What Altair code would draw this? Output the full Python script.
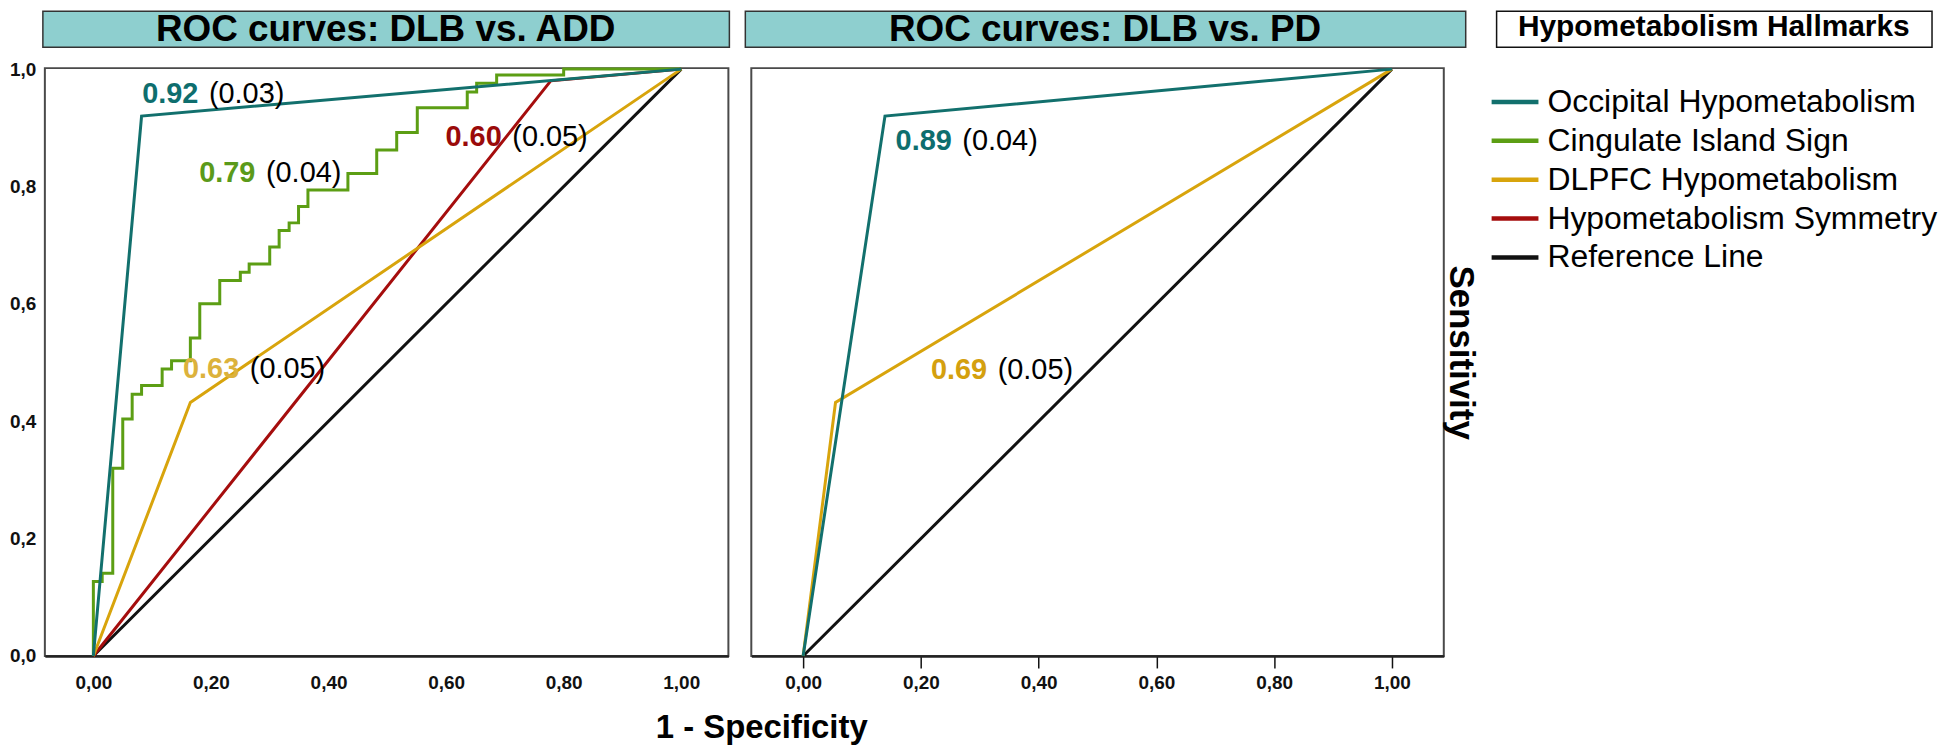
import altair as alt
import pandas as pd

FONT = "Liberation Sans"

# ---------------- data ----------------
series_names = ["Occipital Hypometabolism", "Cingulate Island Sign", "DLPFC Hypometabolism",
                "Hypometabolism Symmetry", "Reference Line"]
series_colors = ["#12706d", "#5c9e14", "#d8a40c", "#a50d0d", "#111111"]
series_widths = [3, 3, 2.6, 2.6, 2.6]

panel_ids = ["ADD", "PD"]
panel_titles = ["ROC curves: DLB vs. ADD", "ROC curves: DLB vs. PD"]
legend_title = "Hypometabolism Hallmarks"

# DLB vs ADD
add_occ_fpr = [0.0, 0.082, 1.0]
add_occ_tpr = [0.0, 0.920, 1.0]
add_cis_fpr = [0.0, 0.0, 0.015, 0.033, 0.050, 0.066, 0.082, 0.117, 0.133, 0.165, 0.181, 0.215,
               0.250, 0.265, 0.300, 0.316, 0.333, 0.349, 0.365, 0.433, 0.482, 0.516, 0.551,
               0.636, 0.652, 0.686, 0.800, 1.0]
add_cis_tpr = [0.0, 0.127, 0.141, 0.320, 0.404, 0.446, 0.461, 0.489, 0.503, 0.542, 0.600, 0.640,
               0.654, 0.668, 0.697, 0.725, 0.738, 0.766, 0.794, 0.822, 0.862, 0.892, 0.934,
               0.961, 0.976, 0.990, 1.0, 1.0]
add_dlpfc_fpr = [0.0, 0.165, 1.0]
add_dlpfc_tpr = [0.0, 0.432, 1.0]
add_sym_fpr = [0.0, 0.778, 1.0]
add_sym_tpr = [0.0, 0.980, 1.0]

# DLB vs PD
pd_occ_fpr = [0.0, 0.139, 1.0]
pd_occ_tpr = [0.0, 0.920, 1.0]
pd_dlpfc_fpr = [0.0, 0.055, 1.0]
pd_dlpfc_tpr = [0.0, 0.432, 1.0]

ref_fpr = [0.0, 1.0]
ref_tpr = [0.0, 1.0]

# AUC annotations
ann_panel = ["ADD", "ADD", "ADD", "ADD", "PD", "PD"]
ann_auc = ["0.92", "0.79", "0.63", "0.60", "0.89", "0.69"]
ann_se = ["(0.03)", "(0.04)", "(0.05)", "(0.05)", "(0.04)", "(0.05)"]
ann_x = [0.083, 0.180, 0.1525, 0.599, 0.157, 0.217]
ann_y = [0.942, 0.808, 0.474, 0.869, 0.863, 0.4725]
ann_colors = ["#0e6e6e", "#5b9a1a", "#dcb23c", "#9a0a0a", "#0e6e6e", "#d4a00e"]

x_ticks = [0.0, 0.2, 0.4, 0.6, 0.8, 1.0]
y_ticks = [0.0, 0.2, 0.4, 0.6, 0.8, 1.0]

# ---------------- tables ----------------
rows = []


def add_curve(panel, series, fpr, tpr):
    for i, (f, t) in enumerate(zip(fpr, tpr)):
        rows.append(dict(panel=panel, series=series, idx=i, fpr=f, tpr=t))


add_curve("ADD", series_names[4], ref_fpr, ref_tpr)
add_curve("ADD", series_names[3], add_sym_fpr, add_sym_tpr)
add_curve("ADD", series_names[2], add_dlpfc_fpr, add_dlpfc_tpr)
add_curve("ADD", series_names[1], add_cis_fpr, add_cis_tpr)
add_curve("ADD", series_names[0], add_occ_fpr, add_occ_tpr)
add_curve("PD", series_names[4], ref_fpr, ref_tpr)
add_curve("PD", series_names[2], pd_dlpfc_fpr, pd_dlpfc_tpr)
add_curve("PD", series_names[0], pd_occ_fpr, pd_occ_tpr)
curves = pd.DataFrame(rows)

ann = pd.DataFrame(dict(panel=ann_panel, auc=ann_auc, se=ann_se, x=ann_x, y=ann_y, tcolor=ann_colors))
legend_df = pd.DataFrame(dict(series=series_names, rank=list(range(len(series_names)))))
one = pd.DataFrame(dict(k=[0]))

color_scale = alt.Scale(domain=series_names, range=series_colors)
width_scale = alt.Scale(domain=series_names, range=series_widths)

H = 590
PANEL = {
    "ADD": dict(width=686, dom=[-0.0825, 1.0802], rect=(-2, 687), title_x=342),
    "PD": dict(width=695, dom=[-0.088, 1.088], rect=(-6, 717), title_x=355),
}


def panel_chart(pid, ptitle, left):
    cfg = PANEL[pid]
    if left:
        xaxis = alt.Axis(values=x_ticks, labelExpr="replace(format(datum.value,'.2f'),'.',',')",
                         labelFont=FONT, labelFontSize=19, labelFontWeight="bold", labelColor="#111",
                         ticks=False, tickSize=0, labelPadding=18, grid=False,
                         domainColor="#222", domainWidth=2.5,
                         title="1 - Specificity", titleX=719, titleY=82, titleAlign="center",
                         titleBaseline="alphabetic", titleFont=FONT, titleFontSize=33,
                         titleFontWeight="bold", titleColor="#000")
        yaxis = alt.Axis(values=y_ticks, labelExpr="replace(format(datum.value,'.1f'),'.',',')",
                         labelFont=FONT, labelFontSize=19, labelFontWeight="bold", labelColor="#111",
                         ticks=False, tickSize=0, domain=False, grid=False, labelPadding=9, title=None)
    else:
        xaxis = alt.Axis(values=x_ticks, labelExpr="replace(format(datum.value,'.2f'),'.',',')",
                         labelFont=FONT, labelFontSize=19, labelFontWeight="bold", labelColor="#111",
                         ticks=True, tickSize=12, tickColor="#111", tickWidth=1.5, labelPadding=6,
                         grid=False, domainColor="#222", domainWidth=2.5, title=None)
        yaxis = alt.Axis(orient="right", labels=False, ticks=False, domain=False, grid=False,
                         title="Sensitivity", titleAngle=90, titleX=17, titleY=285,
                         titleAlign="center", titleBaseline="middle", titleFont=FONT,
                         titleFontSize=35, titleFontWeight="bold", titleColor="#000")

    X = alt.X("fpr:Q", scale=alt.Scale(domain=cfg["dom"], nice=False, zero=False), axis=xaxis)
    Y = alt.Y("tpr:Q", scale=alt.Scale(domain=[0, 1.0017], nice=False, zero=False), axis=yaxis)
    Xa = alt.X("x:Q", scale=alt.Scale(domain=cfg["dom"], nice=False, zero=False), axis=xaxis)
    Ya = alt.Y("y:Q", scale=alt.Scale(domain=[0, 1.0017], nice=False, zero=False), axis=yaxis)

    col = alt.Color("series:N", scale=color_scale, legend=None)
    sw = alt.StrokeWidth("series:N", scale=width_scale, legend=None)
    base = alt.Chart(curves).transform_filter(alt.datum.panel == pid)

    def line_of(name, **kw):
        return base.transform_filter(alt.datum.series == name).mark_line(
            strokeJoin="miter", **kw).encode(x=X, y=Y, order="idx:Q", color=col, strokeWidth=sw)

    if pid == "ADD":
        layers = [line_of(series_names[4]), line_of(series_names[3]), line_of(series_names[2]),
                  line_of(series_names[1], interpolate="step-after"), line_of(series_names[0])]
    else:
        layers = [line_of(series_names[4]), line_of(series_names[2]), line_of(series_names[0])]

    abase = alt.Chart(ann).transform_filter(alt.datum.panel == pid)
    bold = abase.mark_text(font=FONT, fontSize=29, fontWeight="bold", align="left",
                           baseline="alphabetic").encode(
        x=Xa, y=Ya, text="auc:N", fill=alt.Fill("tcolor:N", scale=None))
    reg = abase.mark_text(font=FONT, fontSize=29, align="left", baseline="alphabetic",
                          color="#000", dx=67).encode(x=Xa, y=Ya, text="se:N")

    r0, r1 = cfg["rect"]
    trect = alt.Chart(one).mark_rect(fill="#8ecfcf", stroke="#333", strokeWidth=1.5).encode(
        x=alt.value(r0), x2=alt.value(r1), y=alt.value(-57), y2=alt.value(-21))
    ttext = alt.Chart(one).mark_text(font=FONT, fontSize=37, fontWeight="bold", color="#000",
                                     align="center", baseline="alphabetic").encode(
        x=alt.value(cfg["title_x"]), y=alt.value(-27), text=alt.value(ptitle))

    return alt.layer(trect, ttext, *layers, bold, reg).properties(
        width=cfg["width"], height=H,
        view=alt.ViewBackground(stroke="#4a4a4a", strokeWidth=2))


left = panel_chart("ADD", panel_titles[0], True)
right = panel_chart("PD", panel_titles[1], False)

# ---------------- legend panel ----------------
LY = alt.Y("rank:Q", scale=alt.Scale(domain=[0, len(series_names) - 1], range=[34, 190],
                                     nice=False, zero=False), axis=None)
leg_lines = alt.Chart(legend_df).mark_rule(strokeWidth=4.5).encode(
    x=alt.value(25), x2=alt.value(72), y=LY,
    color=alt.Color("series:N", scale=color_scale, legend=None))
leg_text = alt.Chart(legend_df).mark_text(font=FONT, fontSize=32, align="left", baseline="middle",
                                          color="#000").encode(
    x=alt.value(81), y=LY, text="series:N")
leg_rect = alt.Chart(one).mark_rect(fill="white", stroke="#111", strokeWidth=1.5).encode(
    x=alt.value(30), x2=alt.value(467), y=alt.value(-57), y2=alt.value(-21))
leg_title = alt.Chart(one).mark_text(font=FONT, fontSize=30, fontWeight="bold", color="#000",
                                     align="center", baseline="alphabetic").encode(
    x=alt.value(248), y=alt.value(-32), text=alt.value(legend_title))
legend_panel = alt.layer(leg_rect, leg_title, leg_lines, leg_text).properties(
    width=467, height=H, view=alt.ViewBackground(stroke="transparent"))

chart = alt.hconcat(left, right, legend_panel, spacing=23, bounds="flush").properties(
    padding=0, background="white"
).resolve_scale(color="shared")

chart.save("out.html", embed_options={"renderer": "svg", "actions": False})
